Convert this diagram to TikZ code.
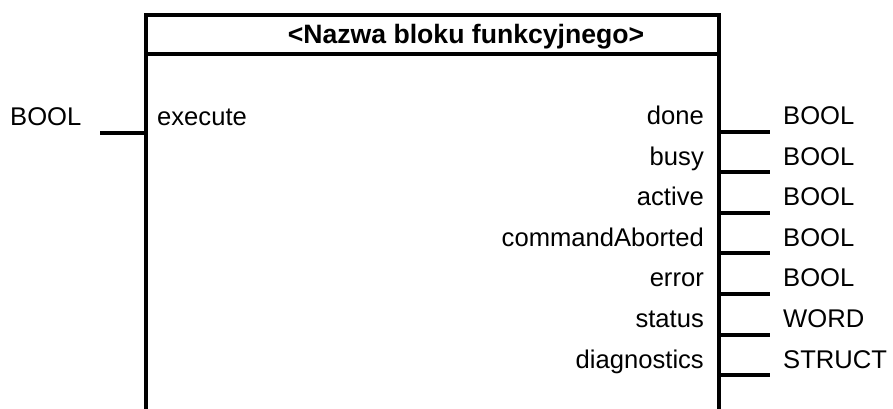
\documentclass[tikz,border=0pt]{standalone}
\usepackage{fontspec}
\setmainfont{Liberation Sans}
\usepackage{tikz}

\tikzset{
  blockline/.style={line width=4pt},
  pinline/.style={line width=4pt},
  lbl/.style={inner sep=0pt,font=\fontsize{25.6}{30}\selectfont},
}

\begin{document}
\begin{tikzpicture}[x=1pt,y=-1pt]
\useasboundingbox (0,0) rectangle (893,408);
%% block outline (open at the bottom)
\coordinate (bl) at (145.5,410);
\coordinate (br) at (719,410);
\coordinate (tl) at (145.5,15);
\coordinate (tr) at (719,15);
\coordinate (sl) at (145.5,54);
\coordinate (sr) at (719,54);
\draw[blockline] (bl) -- (tl) -- (tr) -- (br);
\draw[blockline] (sl) -- (sr);
\node[lbl,font=\fontsize{26.6}{30}\selectfont\bfseries,anchor=base] (title) at (466,43) {<Nazwa bloku funkcyjnego>};
%% input
\node[lbl,anchor=base west] (tin) at (10,125) {BOOL};
\node[lbl,anchor=base west] (execute) at (157,125) {execute};
\coordinate (in0) at (100,133);
\coordinate (in1) at (145.5,133);
\draw[pinline] (in0) -- (in1);
%% outputs
\node[lbl,anchor=base east] (done) at (704,124.5) {done};
\node[lbl,anchor=base east] (busy) at (704,165.1) {busy};
\node[lbl,anchor=base east] (active) at (704,205.7) {active};
\node[lbl,anchor=base east] (aborted) at (704,246.3) {commandAborted};
\node[lbl,anchor=base east] (error) at (704,286.9) {error};
\node[lbl,anchor=base east] (status) at (704,327.5) {status};
\node[lbl,anchor=base east] (diag) at (704,368.1) {diagnostics};
%%
\node[lbl,anchor=base west] (tdone) at (783,124.5) {BOOL};
\node[lbl,anchor=base west] (tbusy) at (783,165.1) {BOOL};
\node[lbl,anchor=base west] (tactive) at (783,205.7) {BOOL};
\node[lbl,anchor=base west] (taborted) at (783,246.3) {BOOL};
\node[lbl,anchor=base west] (terror) at (783,286.9) {BOOL};
\node[lbl,anchor=base west] (tstatus) at (783,327.5) {WORD};
\node[lbl,anchor=base west] (tdiag) at (783,368.1) {STRUCT};
%%
\coordinate (o1a) at (719,131.5);   \coordinate (o1b) at (770,131.5);
\coordinate (o2a) at (719,172.1);   \coordinate (o2b) at (770,172.1);
\coordinate (o3a) at (719,212.7);   \coordinate (o3b) at (770,212.7);
\coordinate (o4a) at (719,253.3);   \coordinate (o4b) at (770,253.3);
\coordinate (o5a) at (719,293.9);   \coordinate (o5b) at (770,293.9);
\coordinate (o6a) at (719,334.5);   \coordinate (o6b) at (770,334.5);
\coordinate (o7a) at (719,375.1);   \coordinate (o7b) at (770,375.1);
\draw[pinline] (o1a) -- (o1b);
\draw[pinline] (o2a) -- (o2b);
\draw[pinline] (o3a) -- (o3b);
\draw[pinline] (o4a) -- (o4b);
\draw[pinline] (o5a) -- (o5b);
\draw[pinline] (o6a) -- (o6b);
\draw[pinline] (o7a) -- (o7b);
\end{tikzpicture}
\end{document}
